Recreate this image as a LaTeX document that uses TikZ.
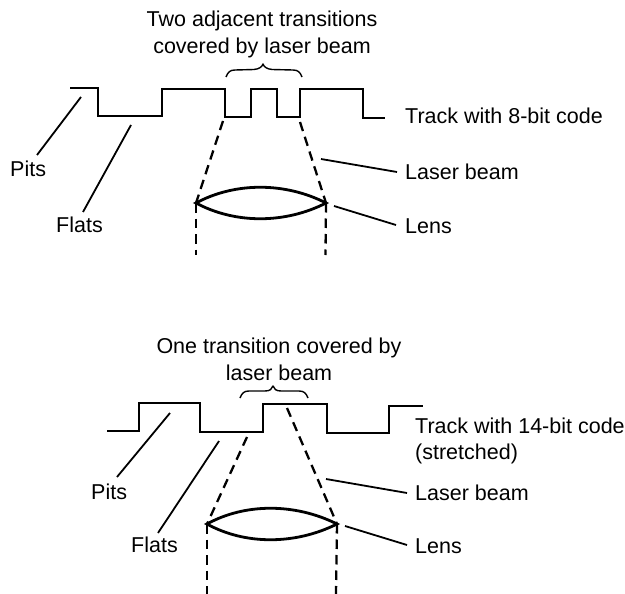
\documentclass[tikz,border=0pt]{standalone}
\usepackage{fontspec}
\setmainfont{Liberation Sans}
\tikzset{
  lbl/.style={inner sep=0pt,anchor=west,font=\fontsize{21.5}{26}\selectfont},
  ttl/.style={inner sep=0pt,align=center,font=\fontsize{21.5}{27}\selectfont},
  trackline/.style={line width=2.5pt,line join=miter},
  lensline/.style={line width=2.8pt,line cap=round},
  beamline/.style={line width=2.3pt,dash pattern=on 9.5pt off 6pt},
  leader/.style={line width=1.8pt},
  bracel/.style={line width=1.4pt,line join=round}
}
\begin{document}
\begin{tikzpicture}[x=1pt,y=-1pt]
\useasboundingbox (0,0) rectangle (625,594);
% ---- upper
\node[ttl] (t1) at (262,34) {Two adjacent transitions\\covered by laser beam};
\node[lbl] (track1) at (405,116) {Track with 8-bit code};
\node[lbl] (laser1) at (405,172) {Laser beam};
\node[lbl] (lens1) at (405,226) {Lens};
\node[lbl] (pits1) at (10,169) {Pits};
\node[lbl] (flats1) at (56,225) {Flats};
\draw[trackline] (70,88)-|(98,116)-|(162,89)-|(225,117)-|(251,89)-|(277,117)-|(300,89)-|(363,118)--(385,118);
\draw[bracel] (226,77)..controls (228,72) and (230,70) .. (235,70) -- (254,69.5) .. controls (259,69) and (262,67) .. (263,64) .. controls (264,67) and (267,69) .. (272,69.5) -- (293,70) .. controls (298,70) and (300,72) .. (302,77);
\coordinate (l1a) at (196,203);
\coordinate (l1b) at (326,203);
\coordinate (b1a) at (223,121);
\coordinate (b1b) at (300,122);
\coordinate (d1a) at (196,255);
\coordinate (d1b) at (325.5,255);
\draw[beamline] (b1a)--(l1a);
\draw[beamline] (b1b)--(l1b);
\draw[beamline] (l1a)--(d1a);
\draw[beamline] (l1b)--(d1b);
\draw[lensline] (l1a) .. controls (235,182) and (285,182) .. (l1b) .. controls (285,224) and (235,224) .. (l1a) -- cycle;
\coordinate (p1s) at (81,97);
\coordinate (p1e) at (37,155);
\coordinate (f1s) at (131,125);
\coordinate (f1e) at (83,212);
\coordinate (k1s) at (321,159);
\coordinate (k1e) at (397,172);
\coordinate (n1s) at (334,206);
\coordinate (n1e) at (396,225);
\draw[leader] (p1s)--(p1e);
\draw[leader] (f1s)--(f1e);
\draw[leader] (k1s)--(k1e);
\draw[leader] (n1s)--(n1e);
% ---- lower
\node[ttl] (t2) at (279,359) {One transition covered by\\laser beam};
\node[lbl,align=left] (track2) at (415,441) {Track with 14-bit code\\(stretched)};
\node[lbl] (laser2) at (415,493) {Laser beam};
\node[lbl] (lens2) at (415,546) {Lens};
\node[lbl] (pits2) at (91,492) {Pits};
\node[lbl] (flats2) at (131,545) {Flats};
\draw[trackline] (107,431)-|(139,403)-|(200,432)-|(263,404)-|(327,433)-|(389,406)--(423,406);
\draw[bracel] (240,398)..controls (242,393) and (244,391) .. (249,391) -- (265,391) .. controls (270,391) and (272,389) .. (273,386) .. controls (274,389) and (276,391) .. (281,391) -- (299,391) .. controls (304,391) and (306,393) .. (308,398);
\coordinate (l2a) at (207,524);
\coordinate (l2b) at (337,524);
\coordinate (b2a) at (247,437);
\coordinate (b2b) at (287,408);
\coordinate (d2a) at (207,594);
\coordinate (d2b) at (336,594);
\draw[beamline] (b2a)--(l2a);
\draw[beamline] (b2b)--(l2b);
\draw[beamline] (l2a)--(d2a);
\draw[beamline] (l2b)--(d2b);
\draw[lensline] (l2a) .. controls (245,503) and (295,503) .. (l2b) .. controls (295,545) and (245,545) .. (l2a) -- cycle;
\coordinate (p2s) at (170,413);
\coordinate (p2e) at (117,477);
\coordinate (f2s) at (219,441);
\coordinate (f2e) at (158,533);
\coordinate (k2s) at (326,479);
\coordinate (k2e) at (407,493);
\coordinate (n2s) at (345,526);
\coordinate (n2e) at (407,545);
\draw[leader] (p2s)--(p2e);
\draw[leader] (f2s)--(f2e);
\draw[leader] (k2s)--(k2e);
\draw[leader] (n2s)--(n2e);
\end{tikzpicture}
\end{document}
